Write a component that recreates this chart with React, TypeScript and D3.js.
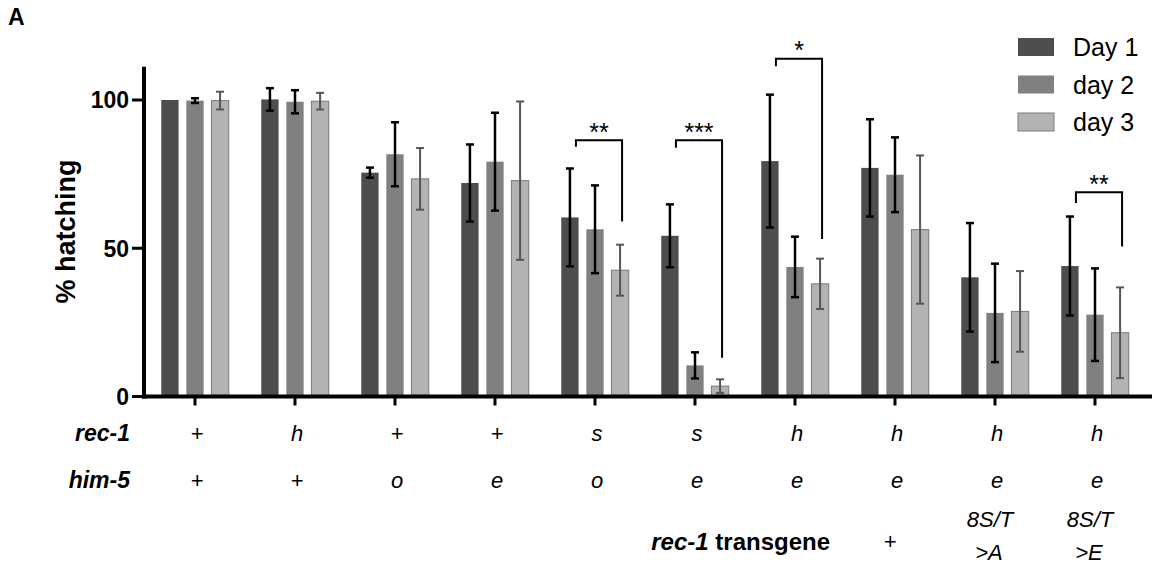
import React from 'react';
import * as d3 from 'd3';

// values (% hatching, mean and error)
const rec1 = ['+', 'h', '+', '+', 's', 's', 'h', 'h', 'h', 'h'];
const him5 = ['+', '+', 'o', 'e', 'o', 'e', 'e', 'e', 'e', 'e'];
const transgeneTop = ['', '', '', '', '', '', '', '+', '8S/T', '8S/T'];
const transgeneBottom = ['', '', '', '', '', '', '', '', '>A', '>E'];

const day1 = [100, 100.2, 75.5, 72, 60.4, 54.2, 79.4, 77.1, 40.2, 44];
const day1Err = [0, 3.8, 1.7, 13, 16.5, 10.6, 22.4, 16.4, 18.3, 16.7];
const day2 = [99.8, 99.4, 81.7, 79.2, 56.4, 10.5, 43.7, 74.8, 28.2, 27.6];
const day2Err = [0.8, 3.9, 10.8, 16.5, 14.8, 4.4, 10.2, 12.6, 16.6, 15.6];
const day3 = [99.8, 99.6, 73.4, 72.8, 42.6, 3.5, 38, 56.3, 28.7, 21.5];
const day3Err = [3, 2.8, 10.4, 26.7, 8.6, 2.3, 8.5, 25, 13.6, 15.3];

const seriesNames = ['Day 1', 'day 2', 'day 3'];
const yTicks = [0, 50, 100];

// significance brackets: group, stars, top, left leg end, right leg end
const brackets = [
  { group: 4, label: '**', top: 86.4, left: 84.2, right: 59 },
  { group: 5, label: '***', top: 86.4, left: 83.9, right: 13.1 },
  { group: 6, label: '*', top: 113.9, left: 111.4, right: 53.1 },
  { group: 9, label: '**', top: 68.9, left: 65.3, right: 50.6 },
];

const fills = ['#4d4d4d', '#808080', '#b3b3b3'];
const errColors = ['#000', '#000', '#555'];
const font = 'Liberation Sans, Arial, Helvetica, sans-serif';

export default function App() {
  const width = 1152;
  const height = 568;
  const axisX = 144;

  const groups = d3.range(rec1.length);
  const x = d3.scaleBand<number>().domain(groups).range([145, 1145]);
  const x1 = d3.scaleBand<number>().domain([0, 1, 2]).range([-41.5, 41.5]).padding(0.31);
  const y = d3.scaleLinear().domain([0, 100]).range([396.5, 100]);
  const cx = (g: number) => (x(g) as number) + x.bandwidth() / 2;

  const series = [
    { values: day1, errs: day1Err },
    { values: day2, errs: day2Err },
    { values: day3, errs: day3Err },
  ];

  return (
    <div style={{ position: 'absolute', left: 0, top: 0 }}>
      <svg width={width} height={height} style={{ display: 'block', background: '#fff' }} fontFamily={font}>
        <text x={8} y={25} fontSize={23} fontWeight="bold">A</text>

        {/* bars */}
        {series.map((s, si) =>
          groups.map((g) => {
            const bx = cx(g) + (x1(si) as number);
            const v = s.values[g];
            return (
              <rect key={`b${si}-${g}`} x={bx} y={y(v)} width={x1.bandwidth()} height={y(0) - y(v)}
                fill={fills[si]} stroke={si === 2 ? '#7a7a7a' : 'none'} strokeWidth={1} />
            );
          })
        )}

        {/* error bars */}
        {series.map((s, si) =>
          groups.map((g) => {
            const e = s.errs[g];
            if (!e) return null;
            const mx = cx(g) + (x1(si) as number) + x1.bandwidth() / 2;
            const v = s.values[g];
            const sw = si === 2 ? 2 : 2.5;
            return (
              <g key={`e${si}-${g}`} stroke={errColors[si]} strokeWidth={sw}>
                <line x1={mx} x2={mx} y1={y(v + e)} y2={y(v - e)} />
                <line x1={mx - 4} x2={mx + 4} y1={y(v + e)} y2={y(v + e)} />
                <line x1={mx - 4} x2={mx + 4} y1={y(v - e)} y2={y(v - e)} />
              </g>
            );
          })
        )}

        {/* axes */}
        <line x1={axisX} x2={axisX} y1={y(111.2)} y2={y(0) + 2} stroke="#000" strokeWidth={4} />
        <line x1={axisX - 2} x2={width} y1={y(0)} y2={y(0)} stroke="#000" strokeWidth={4} />
        {yTicks.map((t) => (
          <g key={`yt${t}`}>
            <line x1={axisX - 12} x2={axisX} y1={y(t)} y2={y(t)} stroke="#000" strokeWidth={3} />
            <text x={axisX - 15} y={y(t)} dy="0.36em" textAnchor="end" fontSize={23} fontWeight="bold">{t}</text>
          </g>
        ))}
        {groups.map((g) => (
          <line key={`xt${g}`} x1={cx(g)} x2={cx(g)} y1={y(0)} y2={y(0) + 9} stroke="#000" strokeWidth={3} />
        ))}
        <text transform={`translate(75,231.5) rotate(-90)`} textAnchor="middle" fontSize={27} fontWeight="bold">% hatching</text>

        {/* significance */}
        {brackets.map((b) => {
          const lx = cx(b.group) + (x1(0) as number) + x1.bandwidth() / 2 + 6;
          const rx = cx(b.group) + (x1(2) as number) + x1.bandwidth() / 2 + 2;
          return (
            <g key={`br${b.group}`}>
              <path d={`M${lx},${y(b.left)}V${y(b.top)}H${rx}V${y(b.right)}`} fill="none" stroke="#000" strokeWidth={2} />
              <text x={(lx + rx) / 2} y={y(b.top) + 0.5} textAnchor="middle" fontSize={25}>{b.label}</text>
            </g>
          );
        })}

        {/* legend */}
        {seriesNames.map((n, i) => (
          <g key={n} transform={`translate(1018,${38 + i * 37.5})`}>
            <rect width={36} height={18} fill={fills[i]} stroke={i === 2 ? '#7a7a7a' : 'none'} strokeWidth={1} />
            <text x={55} y={18} fontSize={25}>{n}</text>
          </g>
        ))}

        {/* genotype table */}
        <text x={130} y={441} textAnchor="end" fontSize={23} fontWeight="bold" fontStyle="italic">rec-1</text>
        <text x={130} y={488} textAnchor="end" fontSize={23} fontWeight="bold" fontStyle="italic">him-5</text>
        {groups.map((g) => (
          <g key={`lab${g}`} fontSize={22} fontStyle="italic" textAnchor="middle">
            <text x={cx(g) + 2} y={441}>{rec1[g]}</text>
            <text x={cx(g) + 2} y={488}>{him5[g]}</text>
            <text x={cx(g) - 5} y={transgeneBottom[g] ? 527 : 549}>{transgeneTop[g]}</text>
            <text x={cx(g) - 6} y={560}>{transgeneBottom[g]}</text>
          </g>
        ))}
        <text x={830} y={550} textAnchor="end" fontSize={24} fontWeight="bold">
          <tspan fontStyle="italic">rec-1</tspan> transgene
        </text>
      </svg>
    </div>
  );
}
